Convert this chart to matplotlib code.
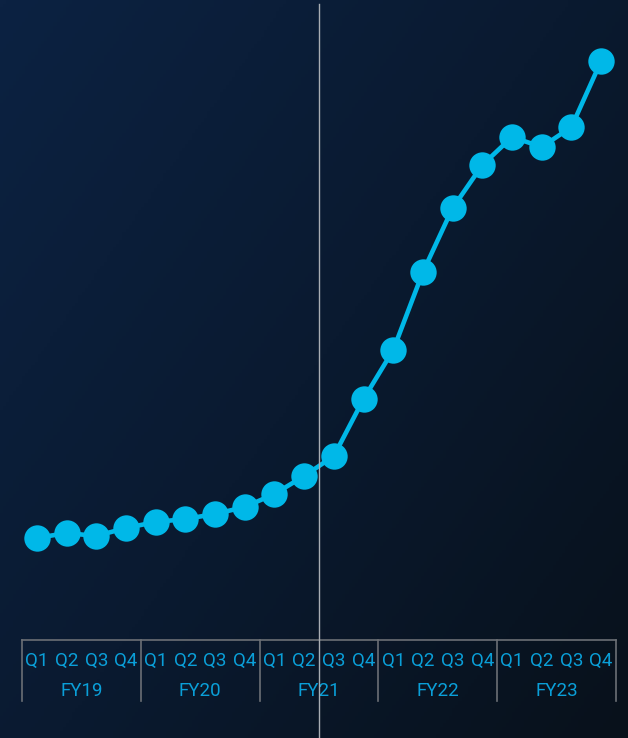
import numpy as np
import matplotlib.pyplot as plt
from matplotlib.lines import Line2D
from matplotlib.colors import LinearSegmentedColormap
import matplotlib.transforms as mtransforms

# 数据
years = ['FY19', 'FY20', 'FY21', 'FY22', 'FY23']
quarters = ['Q1', 'Q2', 'Q3', 'Q4']
values = [162, 167, 164, 172, 178, 181, 186, 193, 206, 224,
          244, 301, 350, 428, 492, 535, 563, 553, 573, 639]

W, H = 628, 738
line_color = '#00b8e8'
label_color = '#0a9fd8'
box_color = '#6b6f75'

fig = plt.figure(figsize=(W / 100, H / 100), dpi=100)

# 背景渐变
bg = fig.add_axes([0, 0, 1, 1], zorder=-10)
xx, yy = np.meshgrid(np.linspace(0, 1, 200), np.linspace(0, 1, 200))
t = np.clip(0.55 * xx + 0.45 * yy, 0, 1)
cmap = LinearSegmentedColormap.from_list('bg', ['#0c2242', '#0a1a30', '#08111b'])
bg.imshow(t, cmap=cmap, aspect='auto', extent=[0, 1, 0, 1], origin='upper')
bg.axis('off')

# 主图
left, right, top_box, bottom_box = 22, 616, 640, 701
ax = fig.add_axes([left / W, (H - top_box) / H, (right - left) / W, top_box / H])
ax.set_xlim(-0.5, len(values) - 0.5)
ax.set_ylim(60, 700)
ax.axis('off')
x = np.arange(len(values))
ax.plot(x, values, color=line_color, lw=3.3, marker='o', markersize=19,
        markerfacecolor=line_color, markeredgewidth=0, clip_on=False)

# 分类框
cat = fig.add_axes([left / W, (H - bottom_box) / H, (right - left) / W, (bottom_box - top_box) / H])
cat.set_xlim(-0.5, len(values) - 0.5)
cat.set_ylim(0, 1)
cat.axis('off')
cat.plot([-0.5, len(values) - 0.5], [1, 1], color=box_color, lw=1.2, clip_on=False)
for g in range(len(years) + 1):
    cat.plot([g * 4 - 0.5, g * 4 - 0.5], [0, 1], color=box_color, lw=1.2, clip_on=False)
for i in range(len(values)):
    cat.text(i, 0.66, quarters[i % 4], ha='center', va='center', color=label_color,
             fontsize=13.5, family='Roboto')
for g, yname in enumerate(years):
    cat.text(g * 4 + 1.5, 0.17, yname, ha='center', va='center', color=label_color,
             fontsize=13.5, family='Roboto')

# 竖线 (FY21 Q2/Q3 之间)
trans = mtransforms.blended_transform_factory(ax.transData, fig.transFigure)
fig.add_artist(Line2D([9.5, 9.5], [0, 1 - 4 / H], transform=trans, color='#a8adb3', lw=1.0))

fig.savefig('out.png', dpi=100)
